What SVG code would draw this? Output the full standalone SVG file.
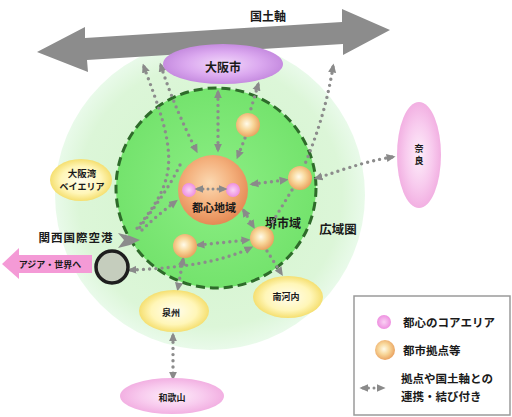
<svg xmlns="http://www.w3.org/2000/svg" width="512" height="417" viewBox="0 0 512 417">
<defs>
<radialGradient id="gOuter" cx="50%" cy="50%" r="50%">
<stop offset="0" stop-color="#d2f4cc"/><stop offset="0.85" stop-color="#dcf6d8"/><stop offset="1" stop-color="#e9faea"/>
</radialGradient>
<radialGradient id="gInner" cx="50%" cy="50%" r="50%">
<stop offset="0" stop-color="#8cee84"/><stop offset="1" stop-color="#74e36d"/>
</radialGradient>
<radialGradient id="gCore" cx="45%" cy="40%" r="60%">
<stop offset="0" stop-color="#fbd9b2"/><stop offset="0.55" stop-color="#f4b07c"/><stop offset="1" stop-color="#e58a55"/>
</radialGradient>
<radialGradient id="gSphere" cx="45%" cy="45%" r="55%">
<stop offset="0" stop-color="#fffbea"/><stop offset="0.5" stop-color="#f8d79a"/><stop offset="1" stop-color="#eaa462"/>
</radialGradient>
<radialGradient id="gYellow" cx="50%" cy="50%" r="50%">
<stop offset="0" stop-color="#fffdee"/><stop offset="0.65" stop-color="#fff6b8"/><stop offset="1" stop-color="#f5df70"/>
</radialGradient>
<radialGradient id="gPurple" cx="50%" cy="50%" r="50%">
<stop offset="0" stop-color="#f2d8fa"/><stop offset="0.6" stop-color="#dcaaf0"/><stop offset="1" stop-color="#c68ce0"/>
</radialGradient>
<radialGradient id="gPink" cx="50%" cy="50%" r="50%">
<stop offset="0" stop-color="#fdeefa"/><stop offset="0.6" stop-color="#f8cbee"/><stop offset="1" stop-color="#f2b0e2"/>
</radialGradient>
<radialGradient id="gCorePink" cx="50%" cy="50%" r="50%">
<stop offset="0" stop-color="#fad2f4"/><stop offset="1" stop-color="#ee90e0"/>
</radialGradient>
<marker id="ah" viewBox="0 0 10 10" refX="6" refY="5" markerWidth="9" markerHeight="9" markerUnits="userSpaceOnUse" orient="auto-start-reverse">
<path d="M0,0.5 L10,5 L0,9.5 z" fill="#8a8a8a"/>
</marker>
<style>
.t{font-family:"Noto Sans CJK JP","Noto Sans CJK SC",sans-serif;font-weight:bold;fill:#1a1a1a;text-anchor:middle;dominant-baseline:central}
.tl{font-family:"Noto Sans CJK JP","Noto Sans CJK SC",sans-serif;font-weight:bold;fill:#1a1a1a;dominant-baseline:central}
.dl{fill:none;stroke:#8c8c8c;stroke-width:3.4;stroke-linecap:round;stroke-dasharray:0 6.2}
.b{marker-start:url(#ah);marker-end:url(#ah)}
.s{marker-start:url(#ah)}
.e{marker-end:url(#ah)}
.sph{fill:url(#gSphere)}
</style>
</defs>

<g id="kouikiken">
<circle cx="210" cy="195" r="155" fill="url(#gOuter)"/>
<text class="t" x="338" y="228" font-size="12.5">広域圏</text>
</g>

<g id="shiiki">
<circle cx="216" cy="188" r="100" fill="url(#gInner)" stroke="#2e6b2a" stroke-width="3" stroke-dasharray="9 5"/>
<text class="t" x="283" y="222" font-size="12">堺市域</text>
</g>

<g id="kokudojiku">
<polygon points="37,52 85,27 85,38 342,22 342,9 390,30 343,55 343,44 87,60 88,72" fill="#8c8c8c"/>
<text class="t" x="268" y="15" font-size="12">国土軸</text>
</g>

<g id="connectors">
<path class="dl b" d="M218,93 L218,149"/>
<path class="dl s" d="M258,85 L250,112"/>
<path class="dl e" d="M245,138 L238,156"/>
<path class="dl s" d="M144,67 C158,105 172,140 168,170 C164,195 150,212 134,232"/>
<path class="dl b" d="M161,66 C172,100 185,128 196,150"/>
<path class="dl" d="M180,165 C168,190 152,210 138,230"/>
<path class="dl e" d="M142,230 C152,220 162,212 175,202"/>
<path class="dl s" d="M333,67 C326,110 314,142 305,164"/>
<path class="dl" d="M292,190 L270,226"/>
<path class="dl e" d="M267,251 L281,273"/>
<path class="dl b" d="M392,157 C362,162 340,171 317,178"/>
<path class="dl b" d="M253,184 L285,180"/>
<path class="dl b" d="M244,211 L253,226"/>
<path class="dl b" d="M199,245 L247,240"/>
<path class="dl b" d="M131,270 C180,268 222,262 250,248"/>
<path class="dl b" d="M183,260 L178,288"/>
<path class="dl b" d="M173,336 L173,377"/>
<path class="dl b" d="M198,189 L224,189" style="stroke-width:3;stroke-dasharray:0 5"/>
<polygon points="118,233 130,236 140,240 130,245 118,248 124,240" fill="#8c8c8c"/>
</g>

<g id="osakashi">
<ellipse cx="223" cy="64" rx="60" ry="20" fill="url(#gPurple)"/>
<text class="t" x="223" y="66" font-size="12">大阪市</text>
</g>

<g id="toshin">
<circle cx="213" cy="190" r="35" fill="url(#gCore)"/>
<circle cx="189" cy="190" r="7" fill="url(#gCorePink)"/>
<circle cx="233" cy="190" r="7" fill="url(#gCorePink)"/>
<path class="dl b" d="M198,189 L224,189" style="stroke-width:3;stroke-dasharray:0 5"/>
<text class="t" x="214" y="207" font-size="11">都心地域</text>
</g>

<g id="kyoten1"><circle cx="248" cy="125" r="12" class="sph"/></g>
<g id="kyoten2"><circle cx="300" cy="178" r="12" class="sph"/></g>
<g id="kyoten3"><circle cx="262" cy="238" r="12" class="sph"/></g>
<g id="kyoten4"><circle cx="185" cy="246" r="12" class="sph"/></g>

<g id="osakawan">
<ellipse cx="81" cy="180" rx="31" ry="21" fill="url(#gYellow)"/>
<text class="t" x="82" y="173" font-size="9.5">大阪湾</text>
<text class="t" x="82" y="186" font-size="9">ベイエリア</text>
</g>

<g id="kansai-airport">
<text class="t" x="76" y="237" font-size="11.5" letter-spacing="1">関西国際空港</text>
<circle cx="112" cy="267" r="16" fill="#c5cdbd" stroke="#1e1e1e" stroke-width="3.5"/>
</g>

<g id="asia">
<polygon points="2,264 19,248 19,255 92,255 92,273 19,273 19,279" fill="#f49ad6"/>
<text class="t" x="50" y="264" font-size="9">アジア・世界へ</text>
</g>

<g id="senshu">
<ellipse cx="174" cy="311" rx="35" ry="21" fill="url(#gYellow)"/>
<text class="t" x="171" y="312" font-size="9">泉州</text>
</g>

<g id="minamikawachi">
<ellipse cx="288" cy="297" rx="35" ry="21" fill="url(#gYellow)"/>
<text class="t" x="286" y="296" font-size="9">南河内</text>
</g>

<g id="nara">
<ellipse cx="419" cy="155" rx="22" ry="53" fill="url(#gPink)"/>
<text class="t" x="419" y="148" font-size="9">奈</text>
<text class="t" x="419" y="160" font-size="9">良</text>
</g>

<g id="wakayama">
<ellipse cx="172" cy="396" rx="52" ry="18" fill="url(#gPink)"/>
<text class="t" x="172" y="397" font-size="9">和歌山</text>
</g>

<g id="legend">
<rect x="354" y="296" width="156" height="119" fill="#ffffff" stroke="#9a9a9a" stroke-width="1.5"/>
<circle cx="384" cy="322" r="7" fill="url(#gCorePink)"/>
<text class="tl" x="403" y="322" font-size="11.5">都心のコアエリア</text>
<circle cx="385" cy="350" r="10" fill="url(#gSphere)"/>
<text class="tl" x="403" y="350" font-size="11.5">都市拠点等</text>
<path class="dl b" d="M363,388 L382,388" style="stroke-width:3;stroke-dasharray:0 5.5"/>
<text class="tl" x="401" y="378" font-size="11.5">拠点や国土軸との</text>
<text class="tl" x="401" y="396" font-size="11.5">連携・結び付き</text>
</g>
</svg>
